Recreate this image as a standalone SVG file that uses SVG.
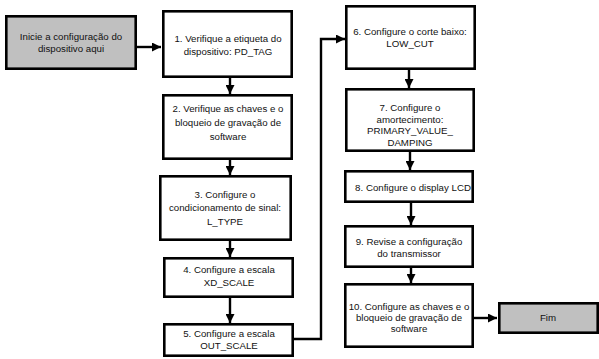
<svg xmlns="http://www.w3.org/2000/svg" width="599" height="359" viewBox="0 0 599 359">
<defs>
<style>
.box{fill:#fff;stroke:#000;stroke-width:2.6}
.gray{fill:#c0c0c0;stroke:#000;stroke-width:2.6}
.t{font-family:"Liberation Sans",Arial,sans-serif;font-size:9.7px;fill:#111;text-anchor:middle}
.c{fill:none;stroke:#000;stroke-width:2.4}
</style>
<marker id="ah" markerUnits="userSpaceOnUse" markerWidth="9" markerHeight="9" viewBox="0 0 9 9" refX="9" refY="4.5" orient="auto">
<path d="M0,0 L9,4.5 L0,9 Z" fill="#000"/>
</marker>
</defs>
<rect width="599" height="359" fill="#fff"/>
<g id="connectors">
<line class="c" x1="137" y1="47" x2="161" y2="47" marker-end="url(#ah)"/>
<line class="c" x1="230" y1="78" x2="230" y2="94" marker-end="url(#ah)"/>
<line class="c" x1="230" y1="160" x2="230" y2="175" marker-end="url(#ah)"/>
<line class="c" x1="230" y1="241" x2="230" y2="257" marker-end="url(#ah)"/>
<line class="c" x1="230" y1="298" x2="230" y2="323" marker-end="url(#ah)"/>
<path class="c" d="M294,339 H321 V39 H345" marker-end="url(#ah)"/>
<line class="c" x1="409" y1="70" x2="409" y2="88" marker-end="url(#ah)"/>
<line class="c" x1="410" y1="152" x2="410" y2="170" marker-end="url(#ah)"/>
<line class="c" x1="411" y1="203" x2="411" y2="225" marker-end="url(#ah)"/>
<line class="c" x1="411" y1="268" x2="411" y2="283" marker-end="url(#ah)"/>
<line class="c" x1="474" y1="318" x2="497" y2="318" marker-end="url(#ah)"/>
</g>
<g id="start">
<rect class="gray" x="6.3" y="16.3" width="129.4" height="52.4"/>
<text class="t" x="71" y="40">Inicie a configuração do</text>
<text class="t" x="71" y="52">dispositivo aqui</text>
</g>
<g id="n1">
<rect class="box" x="163.3" y="11.3" width="128.4" height="65.4"/>
<text class="t" x="228" y="42">1. Verifique a etiqueta do</text>
<text class="t" x="228" y="55">dispositivo: PD_TAG</text>
</g>
<g id="n2">
<rect class="box" x="163.3" y="95.3" width="128.4" height="63.4"/>
<text class="t" x="228" y="112">2. Verifique as chaves e o</text>
<text class="t" x="228" y="126">bloqueio de gravação de</text>
<text class="t" x="228" y="140">software</text>
</g>
<g id="n3">
<rect class="box" x="160.3" y="176.3" width="130.4" height="63.4"/>
<text class="t" x="225" y="198">3. Configure o</text>
<text class="t" x="225" y="211">condicionamento de sinal:</text>
<text class="t" x="225" y="225">L_TYPE</text>
</g>
<g id="n4">
<rect class="box" x="164.3" y="258.3" width="128.4" height="38.4"/>
<text class="t" x="229" y="273">4. Configure a escala</text>
<text class="t" x="229" y="286">XD_SCALE</text>
</g>
<g id="n5">
<rect class="box" x="164.3" y="324.3" width="128.4" height="31.4"/>
<text class="t" x="229" y="337">5. Configure a escala</text>
<text class="t" x="229" y="349">OUT_SCALE</text>
</g>
<g id="n6">
<rect class="box" x="346.3" y="6.3" width="128.4" height="62.4"/>
<text class="t" x="410" y="35">6. Configure o corte baixo:</text>
<text class="t" x="410" y="47">LOW_CUT</text>
</g>
<g id="n7">
<rect class="box" x="346.3" y="89.3" width="127.4" height="61.4"/>
<text class="t" x="410" y="111">7. Configure o</text>
<text class="t" x="410" y="123">amortecimento:</text>
<text class="t" x="410" y="134">PRIMARY_VALUE_</text>
<text class="t" x="410" y="146">DAMPING</text>
</g>
<g id="n8">
<rect class="box" x="345.3" y="171.3" width="127.4" height="30.4"/>
<text class="t" x="413" y="191">8. Configure o display LCD</text>
</g>
<g id="n9">
<rect class="box" x="345.3" y="226.3" width="127.4" height="40.4"/>
<text class="t" x="409" y="245">9. Revise a configuração</text>
<text class="t" x="409" y="257">do transmissor</text>
</g>
<g id="n10">
<rect class="box" x="345.3" y="284.3" width="127.4" height="62.4"/>
<text class="t" x="409" y="310">10. Configure as chaves e o</text>
<text class="t" x="409" y="321">bloqueio de gravação de</text>
<text class="t" x="409" y="332">software</text>
</g>
<g id="end">
<rect class="gray" x="499.3" y="303.3" width="98.4" height="29.4"/>
<text class="t" x="548" y="321">Fim</text>
</g>
</svg>
